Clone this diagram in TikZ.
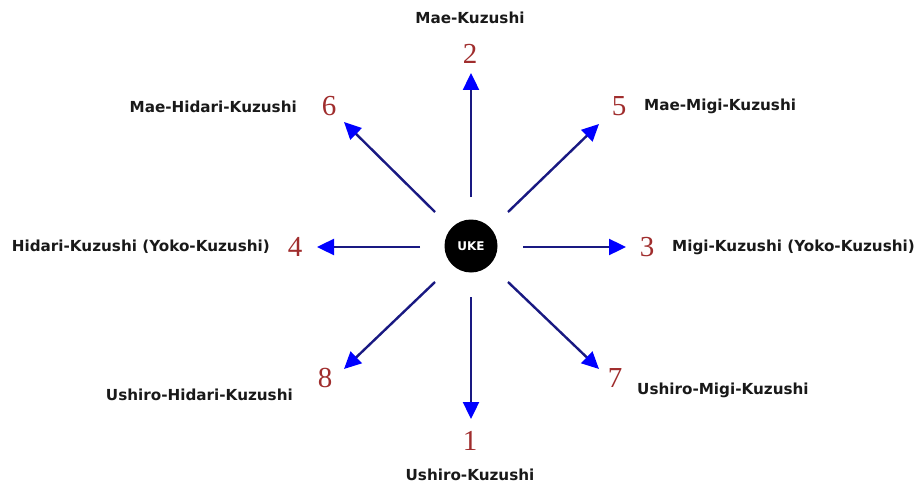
\documentclass[tikz,border=0pt]{standalone}
\usepackage{fontspec}
\setmainfont{DejaVu Sans}
\newfontfamily\numfont{Liberation Serif}
\usetikzlibrary{arrows.meta}
\definecolor{numred}{RGB}{160,45,45}
\definecolor{linenavy}{RGB}{25,25,130}
\begin{document}
\begin{tikzpicture}[x=1pt,y=-1pt,
  lbl/.style={font=\bfseries\fontsize{15.2}{18}\selectfont, text=black!90, inner sep=0pt},
  num/.style={font=\numfont\fontsize{29}{32}\selectfont, text=numred, inner sep=0pt},
  dirarrow/.style={draw=linenavy, line width=2.4pt, -{Triangle[length=17pt,width=16pt,fill=blue,color=blue]}},
  ukenode/.style={circle, fill=black, minimum size=53pt, inner sep=0pt, text=white, font=\bfseries\fontsize{12}{14}\selectfont}]
\useasboundingbox (0,0) rectangle (918,484);
\fill[white] (0,0) rectangle (918,484);
\node[ukenode] (uke) at (471,246) {UKE};
% numbers
\node[num] (n2) at (470,54) {2};
\node[num] (n1) at (470,441) {1};
\node[num] (n3) at (647,247) {3};
\node[num] (n4) at (295,247) {4};
\node[num] (n5) at (619,106) {5};
\node[num] (n6) at (329,106) {6};
\node[num] (n7) at (615,378) {7};
\node[num] (n8) at (325,378) {8};
% labels
\node[lbl] (l2) at (470,18) {Mae-Kuzushi};
\node[lbl] (l1) at (470,475) {Ushiro-Kuzushi};
\node[lbl, anchor=west] (l3) at (672,247) {Migi-Kuzushi (Yoko-Kuzushi)};
\node[lbl, anchor=east] (l4) at (270,247) {Hidari-Kuzushi (Yoko-Kuzushi)};
\node[lbl, anchor=west] (l5) at (644,106) {Mae-Migi-Kuzushi};
\node[lbl, anchor=east] (l6) at (297,107) {Mae-Hidari-Kuzushi};
\node[lbl, anchor=west] (l7) at (637,390) {Ushiro-Migi-Kuzushi};
\node[lbl, anchor=east] (l8) at (293,395) {Ushiro-Hidari-Kuzushi};
% arrow endpoints
\coordinate (s2) at (471,197); \coordinate (e2) at (471,73);
\coordinate (s1) at (471,297); \coordinate (e1) at (471,419);
\coordinate (s3) at (523,247); \coordinate (e3) at (626,247);
\coordinate (s4) at (420,247); \coordinate (e4) at (317,247);
\coordinate (s5) at (508,212); \coordinate (e5) at (599,124);
\coordinate (s6) at (435,212); \coordinate (e6) at (344,122);
\coordinate (s7) at (508,282); \coordinate (e7) at (599,369);
\coordinate (s8) at (435,282); \coordinate (e8) at (344,369);
\foreach \i in {1,...,8} {\draw[dirarrow] (s\i) -- (e\i);}
\end{tikzpicture}
\end{document}
